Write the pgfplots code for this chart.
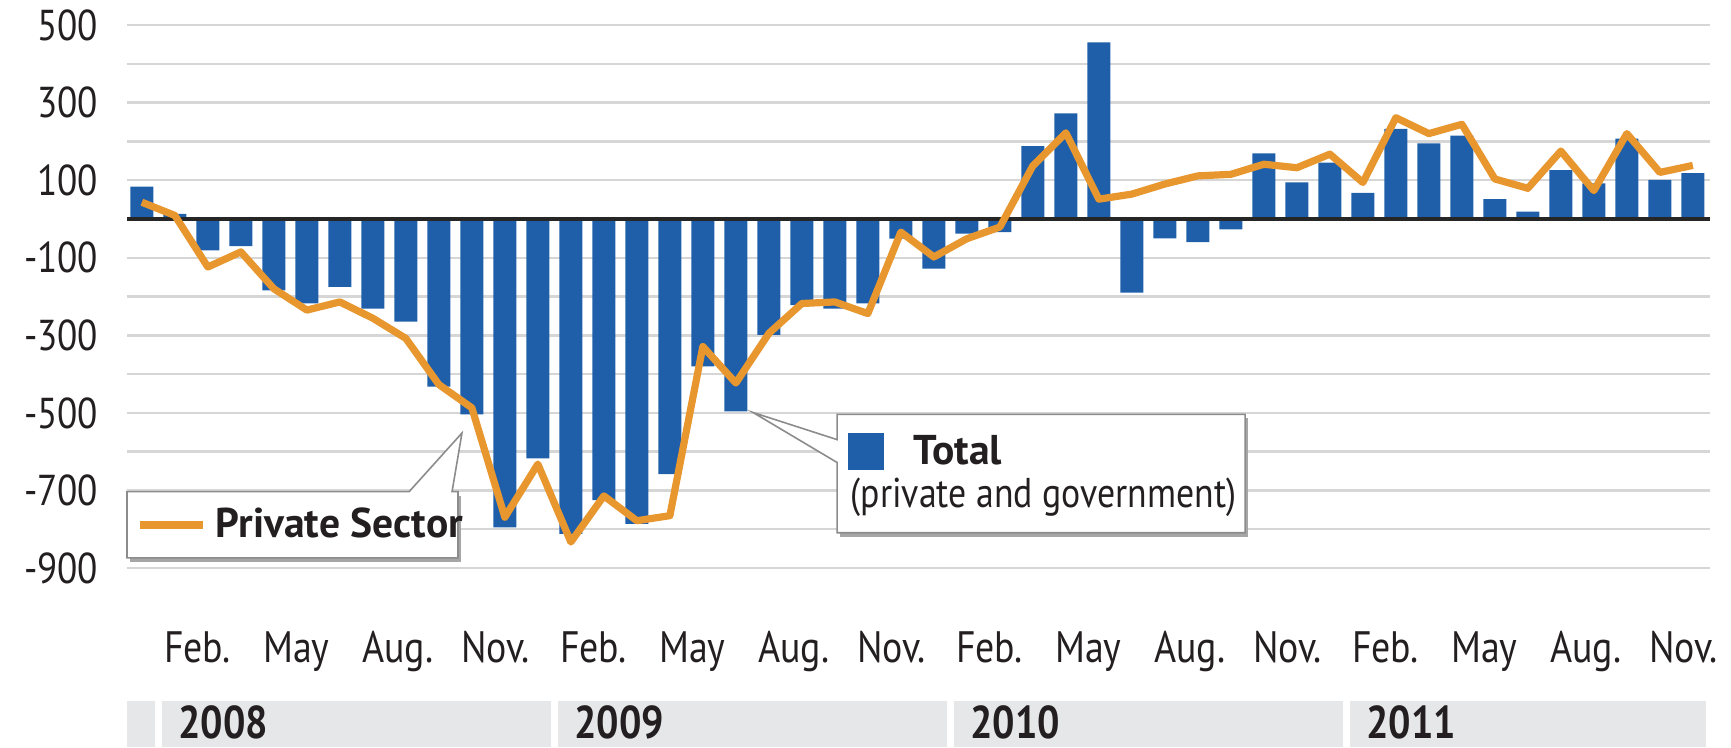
\documentclass[border=0pt]{standalone}
\usepackage{pgfplots}
\usepackage{pgfplotstable}
\pgfplotsset{compat=1.18}
\usepackage{fontspec}
\setmainfont{PT Sans}[FakeStretch=0.86]
\newfontfamily\wideface{PT Sans}

\definecolor{barblue}{HTML}{1F5FAA}
\definecolor{lineorange}{HTML}{E8962E}
\definecolor{gridgray}{HTML}{D6D6D6}
\definecolor{bandgray}{HTML}{E6E7E8}
\definecolor{textdark}{HTML}{231F20}
\definecolor{boxgray}{HTML}{8C8C8C}

% Monthly change in payroll employment (thousands)
\pgfplotstableread{
idx total private
0   83   43
1   13    9
2  -81 -124
3  -70  -85
4 -184 -180
5 -218 -235
6 -175 -214
7 -231 -256
8 -265 -308
9 -432 -427
10 -504 -487
11 -795 -769
12 -617 -632
13 -812 -833
14 -725 -714
15 -786 -778
16 -658 -765
17 -380 -329
18 -496 -423
19 -299 -295
20 -222 -218
21 -231 -214
22 -218 -244
23  -51  -34
24 -128  -98
25  -38  -51
26  -34  -21
27  188  137
28  272  222
29  455   51
30 -190   64
31  -50   90
32  -60  111
33  -27  115
34  169  141
35   94  132
36  145  167
37   67   94
38  232  261
39  195  220
40  215  244
41   51  103
42   19   79
43  126  175
44   92   73
45  207  220
46  101  120
47  118  138
}\jobs

\tikzset{
  yearband/.style={fill=bandgray},
  yearlabel/.style={anchor=base west, inner sep=0pt, font=\fontsize{11.5}{12}\selectfont\bfseries},
  keylabel/.style={anchor=base west, inner sep=0pt, font=\fontsize{10.4}{12}\selectfont\wideface\bfseries},
}

\begin{document}
\begin{tikzpicture}[font=\fontsize{10.5}{12}\selectfont, text=textdark]
\begin{axis}[
  name=ax,
  scale only axis,
  width=395.75pt, height=135.75pt,
  xmin=-0.45, xmax=47.52,
  ymin=-900, ymax=500,
  axis line style={draw=none},
  major tick length=0pt, minor tick length=0pt,
  ytick={-900,-700,...,500},
  minor ytick={-800,-600,...,400},
  ymajorgrids, yminorgrids,
  major grid style={gridgray, line width=0.6pt},
  minor grid style={gridgray, line width=0.6pt},
  /pgf/number format/assume math mode=true,
  yticklabel style={anchor=east, inner sep=0pt, xshift=-7pt,
    font=\fontsize{10.8}{12}\selectfont},
  xtick={1,4,...,46},
  xticklabels={Feb.,May,Aug.,Nov.,Feb.,May,Aug.,Nov.,Feb.,May,Aug.,Nov.,Feb.,May,Aug.,Nov.},
  xticklabel style={anchor=base west, inner sep=0pt, xshift=-2.875pt, yshift=-23.5pt,
    font=\fontsize{11}{12}\selectfont},
  clip=false,
]
% total employment change
\addplot[ybar, bar width=0.7, fill=barblue, draw=none] table[x=idx, y=total] {\jobs};
% zero line
\draw[line width=0.8pt, black!85] (axis cs:-0.45,0) -- (axis cs:47.52,0);
% private sector change
\addplot[lineorange, line width=1.8pt, line join=round, mark=none] table[x=idx, y=private] {\jobs};

% year bands under the month labels
\fill[yearband] ([yshift=-33.25pt]axis cs:-0.45,-900) rectangle ([yshift=-44.75pt]axis cs:0.4,-900);
\fill[yearband] ([yshift=-33.25pt]axis cs:0.6,-900) rectangle ([yshift=-44.75pt]axis cs:12.4,-900);
\fill[yearband] ([yshift=-33.25pt]axis cs:12.6,-900) rectangle ([yshift=-44.75pt]axis cs:24.4,-900);
\fill[yearband] ([yshift=-33.25pt]axis cs:24.6,-900) rectangle ([yshift=-44.75pt]axis cs:36.4,-900);
\fill[yearband] ([yshift=-33.25pt]axis cs:36.6,-900) rectangle ([yshift=-44.75pt]axis cs:47.4,-900);
\node[yearlabel] at ([xshift=4pt, yshift=-42.6pt]axis cs:0.6,-900) {2008};
\node[yearlabel] at ([xshift=4pt, yshift=-42.6pt]axis cs:12.6,-900) {2009};
\node[yearlabel] at ([xshift=4pt, yshift=-42.6pt]axis cs:24.6,-900) {2010};
\node[yearlabel] at ([xshift=4pt, yshift=-42.6pt]axis cs:36.6,-900) {2011};

% callout: private sector
\fill[black!35] ([xshift=0.7pt,yshift=-1pt]axis cs:-0.45,-703) rectangle ([xshift=0.7pt,yshift=-1pt]axis cs:9.58,-874);
\filldraw[fill=white, draw=boxgray, line width=0.4pt]
  (axis cs:-0.45,-703) -- (axis cs:8.1,-703) -- (axis cs:9.7,-552) -- (axis cs:9.4,-703)
  -- (axis cs:9.58,-703) -- (axis cs:9.58,-874) -- (axis cs:-0.45,-874) -- cycle;
\draw[lineorange, line width=2pt] (axis cs:-0.06,-789) -- (axis cs:1.85,-789);
\node[keylabel] at (axis cs:2.22,-820) {Private Sector};

% callout: total
\fill[black!35] ([xshift=0.7pt,yshift=-1pt]axis cs:21.07,-504) rectangle ([xshift=0.7pt,yshift=-1pt]axis cs:33.43,-809);
\filldraw[fill=white, draw=boxgray, line width=0.4pt]
  (axis cs:21.07,-504) -- (axis cs:33.43,-504) -- (axis cs:33.43,-809) -- (axis cs:21.07,-809)
  -- (axis cs:21.07,-628) -- (axis cs:18.52,-499) -- (axis cs:21.07,-569) -- cycle;
\fill[barblue] (axis cs:21.4,-553) rectangle (axis cs:22.49,-646);
\node[keylabel] at (axis cs:23.37,-634) {Total};
\node[anchor=base west, inner sep=0pt, font=\fontsize{10.4}{12}\selectfont]
  at (axis cs:21.46,-745) {(private and government)};
\end{axis}
\pgfresetboundingbox
\path[use as bounding box] ([xshift=-31.75pt, yshift=-44.75pt]ax.south west)
  rectangle ([xshift=5.25pt, yshift=6.25pt]ax.north east);
\end{tikzpicture}
\end{document}
